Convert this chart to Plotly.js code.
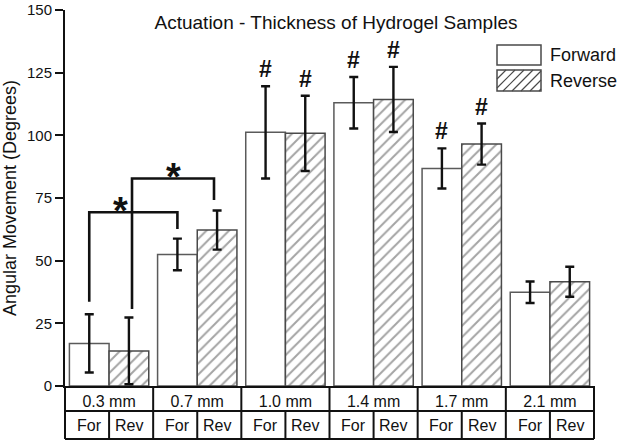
<!DOCTYPE html>
<html>
<head>
<meta charset="utf-8">
<script src="https://cdn.plot.ly/plotly-3.0.1.min.js"></script>
<style>html,body{margin:0;padding:0;background:#fff;}#chart{width:621px;height:442px;}</style>
</head>
<body>
<div id="chart"></div>
<script>
// ---- data ----
const categories = ['0.3 mm', '0.7 mm', '1.0 mm', '1.4 mm', '1.7 mm', '2.1 mm'];
const forwardMean = [17.0, 52.5, 101.2, 113.0, 86.8, 37.4];
const forwardErr  = [11.6, 6.3, 18.4, 10.3, 8.0, 4.3];
const reverseMean = [14.0, 62.2, 100.8, 114.3, 96.5, 41.6];
const reverseErr  = [13.3, 7.8, 15.0, 13.0, 8.2, 6.0];
const forwardHash = [false, false, true, true, true, false];
const reverseHash = [false, false, true, true, true, false];
const subLabels = ['For', 'Rev'];
const seriesNames = ['Forward', 'Reverse'];
const yTicks = [0, 25, 50, 75, 100, 125, 150];
// significance brackets: [fromX, toX, leftFoot, top, rightFoot, starX, starY]
const sigBrackets = [
  [-0.225, 0.775, 33.6, 69.3, 62.6, 0.124, 73.0],
  [0.26, 1.19, 30.7, 82.8, 74.2, 0.725, 86.5]
];

// ---- layout geometry ----
const W = 621, H = 442, ML = 65, MR = 27, MT = 10, MB = 56;
const PW = W - ML - MR, PH = H - MT - MB;
const px2x = p => (p - ML) / PW;
const py2y = p => (H - MB - p) / PH;
const FONT = '"Liberation Sans", Arial, Helvetica, sans-serif';
const INK = '#111';
const n = categories.length;
const idx = categories.map((c, i) => i);
const catX = v => (v + 0.5) / n; // category position -> paper

const traces = [
  {
    type: 'bar', name: seriesNames[0], x: idx, y: forwardMean,
    marker: {color: '#ffffff', line: {color: '#5a5a5a', width: 1.5}},
    error_y: {type: 'data', array: forwardErr, visible: true, color: INK, thickness: 2.4, width: 4.5},
    showlegend: false
  },
  {
    type: 'bar', name: seriesNames[1], x: idx, y: reverseMean,
    marker: {color: '#ffffff', line: {color: '#4a4a4a', width: 1.5},
      pattern: {shape: '/', size: 8, solidity: 0.25, fgcolor: '#4a4a4a', bgcolor: '#ffffff', fillmode: 'overlay'}},
    error_y: {type: 'data', array: reverseErr, visible: true, color: INK, thickness: 2.4, width: 4.5},
    showlegend: false
  }
];

const shapes = [];
const annotations = [];

// table below the axis
const rowMid = py2y(411), rowBot = py2y(439);
const tableLine = {color: INK, width: 2};
for (let i = 0; i <= n; i++) {
  shapes.push({type: 'line', xref: 'paper', yref: 'paper', x0: catX(i - 0.5), x1: catX(i - 0.5), y0: 0, y1: rowBot, line: tableLine});
}
for (let i = 0; i < n; i++) {
  shapes.push({type: 'line', xref: 'paper', yref: 'paper', x0: catX(i), x1: catX(i), y0: rowMid, y1: rowBot, line: tableLine});
  annotations.push({xref: 'x', yref: 'paper', x: i - 0.225, y: py2y(425), text: subLabels[0], showarrow: false,
    xanchor: 'center', yanchor: 'middle', font: {family: FONT, size: 16, color: INK}});
  annotations.push({xref: 'x', yref: 'paper', x: i + 0.225, y: py2y(425), text: subLabels[1], showarrow: false,
    xanchor: 'center', yanchor: 'middle', font: {family: FONT, size: 16, color: INK}});
}
[rowMid, rowBot].forEach(yy => shapes.push({type: 'line', xref: 'paper', yref: 'paper', x0: 0, x1: 1, y0: yy, y1: yy, line: tableLine}));

// hash marks
const hashFont = {family: FONT, size: 23, color: INK};
for (let i = 0; i < n; i++) {
  if (forwardHash[i]) annotations.push({xref: 'x', yref: 'y', x: i - 0.225, y: forwardMean[i] + forwardErr[i], text: '<b>#</b>', showarrow: false, yanchor: 'bottom', yshift: 2, font: hashFont});
  if (reverseHash[i]) annotations.push({xref: 'x', yref: 'y', x: i + 0.225, y: reverseMean[i] + reverseErr[i], text: '<b>#</b>', showarrow: false, yanchor: 'bottom', yshift: 2, font: hashFont});
}

// significance brackets
sigBrackets.forEach(b => {
  shapes.push({type: 'path', xref: 'x', yref: 'y',
    path: `M${b[0]},${b[2]} L${b[0]},${b[3]} L${b[1]},${b[3]} L${b[1]},${b[4]}`,
    line: {color: INK, width: 2.6}, fillcolor: 'rgba(0,0,0,0)'});
  annotations.push({xref: 'x', yref: 'y', x: b[5], y: b[6], text: '<b>*</b>', showarrow: false, xanchor: 'center', yanchor: 'middle',
    yshift: -8, font: {family: FONT, size: 38, color: INK}});
});

// legend keys (drawn)
const keyX0 = 497, keyX1 = 541;
const keys = [[45, 65], [70, 91]];
keys.forEach((k, j) => {
  shapes.push({type: 'rect', xref: 'paper', yref: 'paper', x0: px2x(keyX0), x1: px2x(keyX1), y0: py2y(k[1]), y1: py2y(k[0]),
    line: {color: '#4a4a4a', width: 1.5}, fillcolor: '#ffffff'});
  annotations.push({xref: 'paper', yref: 'paper', x: px2x(548), y: py2y((k[0] + k[1]) / 2), text: seriesNames[j], showarrow: false,
    xanchor: 'left', yanchor: 'middle', font: {family: FONT, size: 18, color: INK}});
});
(function hatchKey() {
  const y0 = keys[1][0], y1 = keys[1][1], h = y1 - y0, step = 9;
  let d = '';
  for (let c = keyX0 - h; c < keyX1; c += step) {
    const t0 = Math.max(0, keyX0 - c), t1 = Math.min(h, keyX1 - c);
    if (t1 <= t0) continue;
    d += `M${px2x(c + t0)},${py2y(y1 - t0)} L${px2x(c + t1)},${py2y(y1 - t1)} `;
  }
  shapes.push({type: 'path', xref: 'paper', yref: 'paper', path: d, line: {color: '#4a4a4a', width: 1.2}});
})();

const layout = {
  width: W, height: H,
  margin: {l: ML, r: MR, t: MT, b: MB, pad: 0},
  paper_bgcolor: '#ffffff', plot_bgcolor: '#ffffff',
  font: {family: FONT, color: INK},
  barmode: 'group', bargap: 0.1, bargroupgap: 0,
  title: {text: 'Actuation - Thickness of Hydrogel Samples', font: {family: FONT, size: 19, color: INK},
    xref: 'paper', x: px2x(336), xanchor: 'center', yref: 'container', y: 1 - 22 / H, yanchor: 'middle'},
  xaxis: {
    range: [-0.5, n - 0.5], tickmode: 'array', tickvals: idx, ticktext: categories,
    showline: true, linecolor: INK, linewidth: 2, ticks: '', showgrid: false, zeroline: false,
    tickfont: {family: FONT, size: 16, color: INK}, ticklabelstandoff: 0, fixedrange: true
  },
  yaxis: {
    range: [0, 150], tickmode: 'array', tickvals: yTicks,
    showline: true, linecolor: INK, linewidth: 2, ticks: 'outside', ticklen: 8, tickwidth: 2, tickcolor: INK,
    showgrid: false, zeroline: false, tickfont: {family: FONT, size: 15, color: INK},
    title: {text: 'Angular Movement (Degrees)', font: {family: FONT, size: 18, color: INK}, standoff: 8}
  },
  shapes: shapes,
  annotations: annotations
};

Plotly.newPlot('chart', traces, layout, {displayModeBar: false, staticPlot: true});
</script>
</body>
</html>
